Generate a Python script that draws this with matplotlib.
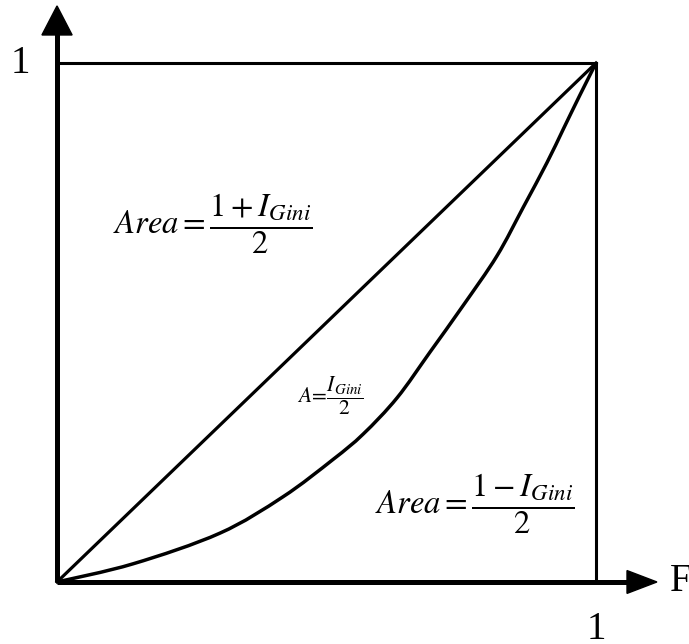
import matplotlib
matplotlib.use("Agg")
import matplotlib.pyplot as plt
import numpy as np
from matplotlib.patches import Polygon, PathPatch
from matplotlib.path import Path

# ---- data ----
lorenz_x = [0.0, 0.141, 0.302, 0.419, 0.512, 0.568, 0.631, 0.692, 0.753, 0.816, 0.865, 0.909, 0.939, 0.970, 1.0]
lorenz_y = [0.0, 0.035, 0.094, 0.164, 0.236, 0.285, 0.355, 0.443, 0.532, 0.628, 0.722, 0.808, 0.872, 0.938, 1.0]
equality_x = [0.0, 1.0]
equality_y = [0.0, 1.0]
tick_label = "1"
axis_label = "F"
label_upper = r"$Area=\dfrac{1+I_{Gini}}{2}$"
label_lower = r"$Area=\dfrac{1-I_{Gini}}{2}$"
label_between = r"$A\!=\!\dfrac{I_{Gini}}{2}$"

plt.rcParams['mathtext.fontset'] = 'stix'
plt.rcParams['font.family'] = ['Liberation Serif', 'DejaVu Serif']

fig = plt.figure(figsize=(6.89, 6.44), dpi=100)
ax = fig.add_axes([0, 0, 1, 1])
ax.set_xlim(-0.1058, 1.1725)
ax.set_ylim(-0.1195, 1.1214)
ax.axis('off')

# axes lines
ax.plot([0, 1.06], [0, 0], color='black', lw=3.6, solid_capstyle='butt', zorder=3)
ax.plot([0, 0], [0, 1.056], color='black', lw=3.6, solid_capstyle='butt', zorder=3)
# arrowheads
ax.add_patch(Polygon([[1.0575, -0.022], [1.0575, 0.022], [1.113, 0.0]], closed=True,
                     color='black', zorder=4))
ax.add_patch(Polygon([[-0.028, 1.054], [0.028, 1.054], [0.0, 1.110]], closed=True,
                     color='black', zorder=4))

# box top and right
ax.plot([0, 1], [1, 1], color='black', lw=2.2, zorder=2)
ax.plot([1, 1], [0, 1], color='black', lw=2.2, zorder=2)

# equality line
ax.plot(equality_x, equality_y, color='black', lw=2.3, zorder=2)

# Lorenz curve drawn as a smooth Bezier path through the read points (Catmull-Rom)
P = np.column_stack([lorenz_x, lorenz_y])
verts = [P[0]]
codes = [Path.MOVETO]
for i in range(len(P) - 1):
    p0 = P[i - 1] if i > 0 else P[i]
    p1 = P[i]
    p2 = P[i + 1]
    p3 = P[i + 2] if i + 2 < len(P) else P[i + 1]
    c1 = p1 + (p2 - p0) / 6.0
    c2 = p2 - (p3 - p1) / 6.0
    verts += [c1, c2, p2]
    codes += [Path.CURVE4] * 3
ax.add_patch(PathPatch(Path(verts, codes), facecolor='none', edgecolor='black',
                       lw=2.5, zorder=2))

# tick labels
ax.text(-0.0686, 1.0, tick_label, fontsize=28, ha='center', va='center')
ax.text(1.0, -0.0925, tick_label, fontsize=28, ha='center', va='center')
ax.text(1.137, 0.0, axis_label, fontsize=28, ha='left', va='center')

# area labels
ax.text(0.104, 0.691, label_upper, fontsize=23.5, ha='left', va='center')
ax.text(0.590, 0.150, label_lower, fontsize=23.5, ha='left', va='center')
ax.text(0.445, 0.360, label_between, fontsize=15.5, ha='left', va='center')

fig.savefig("out.png", dpi=100)
